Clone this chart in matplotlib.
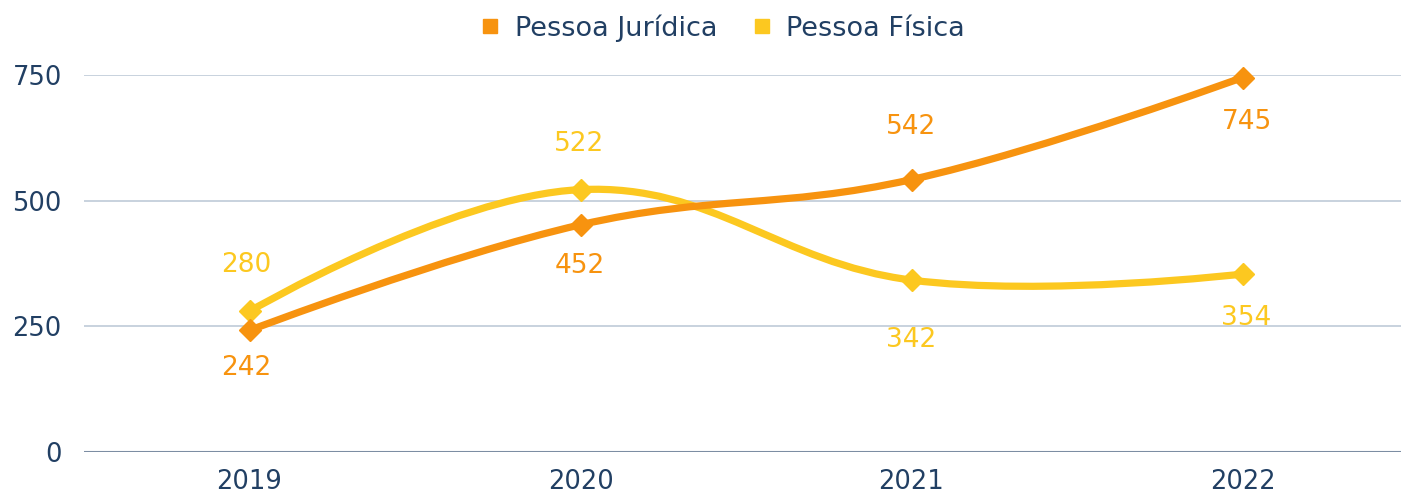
import matplotlib
matplotlib.use("Agg")
import matplotlib.pyplot as plt
from matplotlib.path import Path
from matplotlib.patches import PathPatch
from matplotlib.lines import Line2D

plt.rcParams['font.family'] = ['DejaVu Sans']

years = ["2019", "2020", "2021", "2022"]
juridica = [242, 452, 542, 745]
fisica = [280, 522, 342, 354]
series_names = ["Pessoa Jurídica", "Pessoa Física"]
y_ticks = [0, 250, 500, 750]

ORANGE = "#F7930F"
YELLOW = "#FCC820"
NAVY = "#213F63"

# label offsets in pixels (style only)
off_j = [-38, -41, 53, -44]
off_f = [46, 46, -60, -44]
off_x = [-3, -1, 0, 4]

W, H = 1401, 492
left, right = 84, 1408
bottom, top = 452, 75
YMAX = 750


def spline_path(xs, ys, smoothing=1.5):
    denom = smoothing + 1
    n = len(xs)
    lc = [(xs[i], ys[i]) for i in range(n)]
    rc = [(xs[i], ys[i]) for i in range(n)]
    for i in range(1, n - 1):
        px, py = xs[i], ys[i]
        lx, ly = xs[i - 1], ys[i - 1]
        nx, ny = xs[i + 1], ys[i + 1]
        lcx = (smoothing * px + lx) / denom
        lcy = (smoothing * py + ly) / denom
        rcx = (smoothing * px + nx) / denom
        rcy = (smoothing * py + ny) / denom
        corr = (rcy - lcy) * (rcx - px) / (rcx - lcx) + py - rcy
        lc[i] = (lcx, lcy + corr)
        rc[i] = (rcx, rcy + corr)
    verts = [(xs[0], ys[0])]
    codes = [Path.MOVETO]
    for i in range(1, n):
        verts += [rc[i - 1], lc[i], (xs[i], ys[i])]
        codes += [Path.CURVE4] * 3
    return Path(verts, codes)


fig = plt.figure(figsize=(W / 100, H / 100), dpi=100)
ax = fig.add_axes([left / W, (H - bottom) / H, (right - left) / W, (bottom - top) / H])
ax.set_xlim(-0.5, len(years) - 0.5)
ax.set_ylim(0, YMAX)
ax.patch.set_alpha(0)
for s in ax.spines.values():
    s.set_visible(False)

for t in y_ticks[1:]:
    ax.axhline(t, color="#C4CFDB", lw=1.3, zorder=1)
ax.axhline(0, color="#7C8DA3", lw=1.5, zorder=1)

xs = list(range(len(years)))
for vals, col in [(fisica, YELLOW), (juridica, ORANGE)]:
    p = spline_path(xs, vals)
    ax.add_patch(PathPatch(p, fill=False, edgecolor=col, lw=5.2, capstyle='round',
                           joinstyle='round', zorder=3, clip_on=False))
    ax.plot(xs, vals, ls='none', marker='D', ms=11.5, color=col, mec=col, zorder=4, clip_on=False)

for vals, offs, col in [(juridica, off_j, ORANGE), (fisica, off_f, YELLOW)]:
    for x, v, o, ox in zip(xs, vals, offs, off_x):
        ax.annotate(str(v), (x, v), xytext=(ox, o), textcoords='offset pixels',
                    ha='center', va='center', fontsize=19, color=col, zorder=5)

ax.set_yticks(y_ticks)
ax.set_yticklabels([str(t) for t in y_ticks])
ax.set_xticks(xs)
ax.set_xticklabels(years)
ax.tick_params(axis='both', length=0, labelsize=18.5, labelcolor=NAVY)
ax.tick_params(axis='y', pad=16)
ax.tick_params(axis='x', pad=12)

handles = [Line2D([], [], ls='none', marker='s', ms=9.5, color=ORANGE),
           Line2D([], [], ls='none', marker='s', ms=9.5, color=YELLOW)]
fig.legend(handles, series_names, loc='center', bbox_to_anchor=(723 / W, 1 - 28 / H),
           ncol=2, frameon=False, fontsize=19.5, labelcolor=NAVY, handlelength=0.7,
           handletextpad=0.55, columnspacing=1.3)

fig.savefig("out.png", dpi=100)
